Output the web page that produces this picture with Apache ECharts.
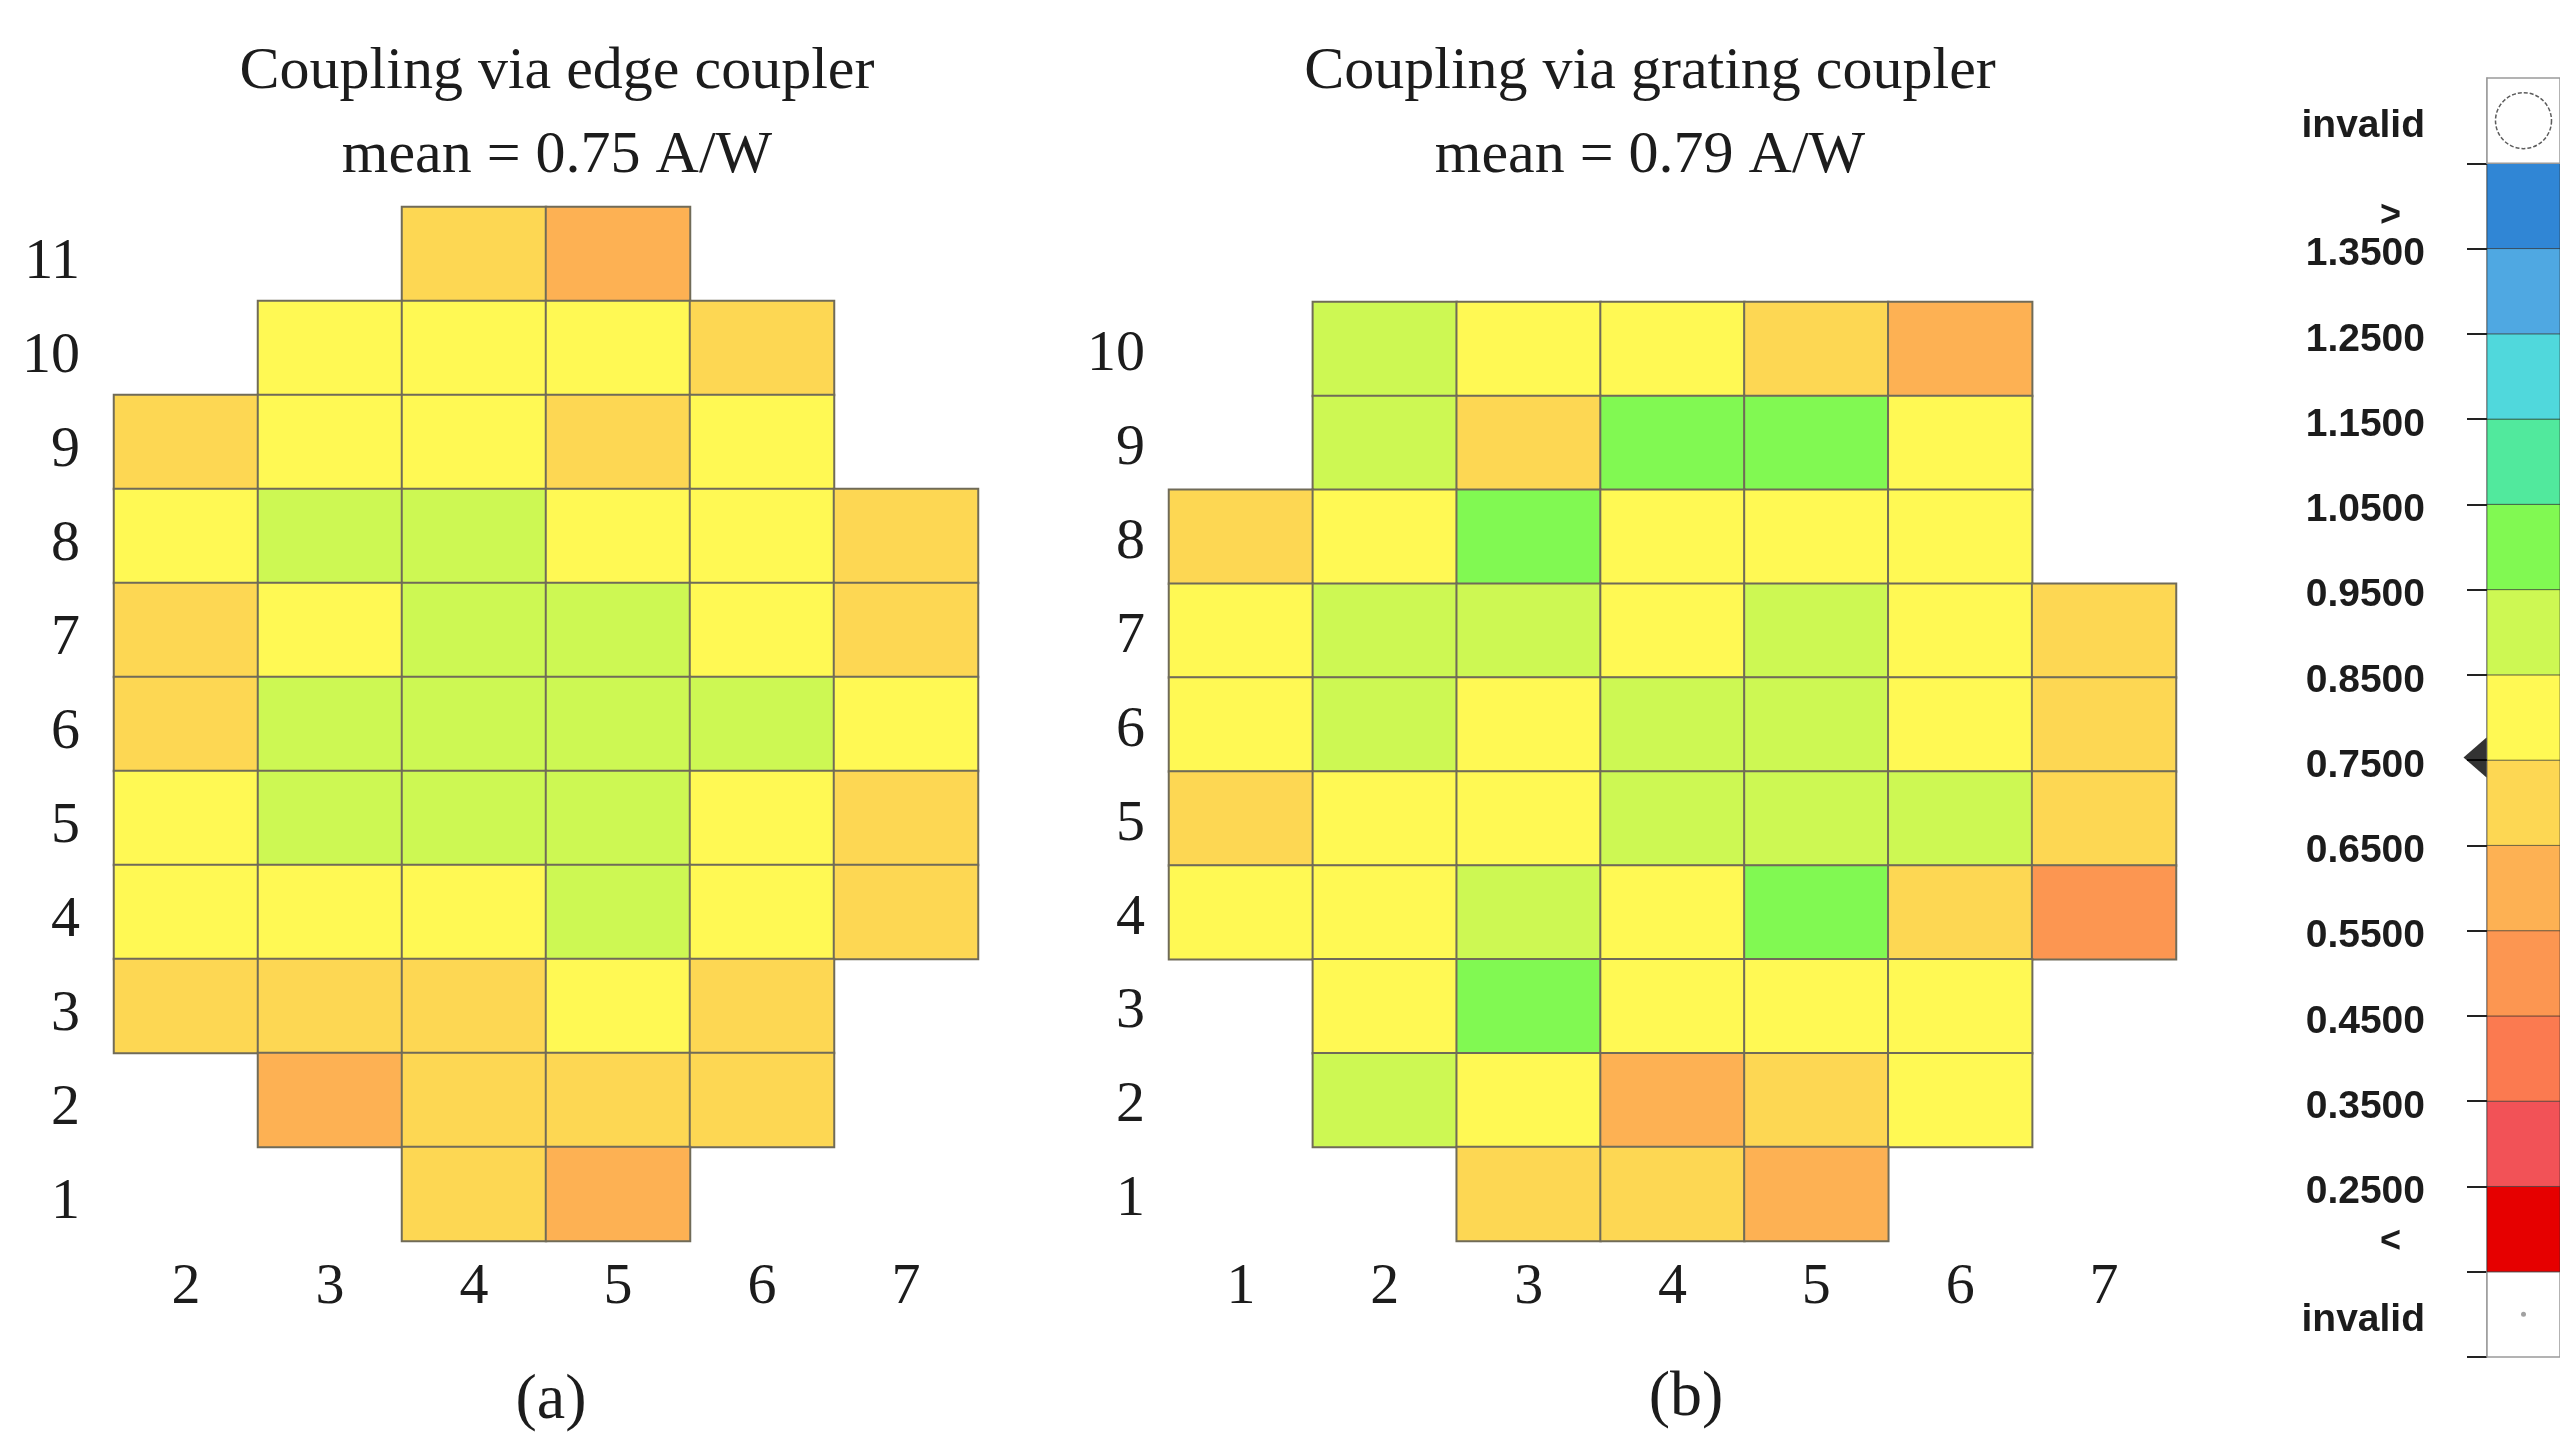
<!DOCTYPE html>
<html>
<head>
<meta charset="utf-8">
<title>Responsivity wafer maps</title>
<script src="https://cdn.jsdelivr.net/npm/echarts@6/dist/echarts.min.js"></script>
<style>
  html, body { margin: 0; padding: 0; background: #ffffff; }
  #chart { width: 2560px; height: 1432px; }
</style>
</head>
<body>
<div id="chart"></div>
<script>
// Die column / row numbers of the two wafer maps
const edgeCols = ['2', '3', '4', '5', '6', '7'];
const edgeRows = ['1', '2', '3', '4', '5', '6', '7', '8', '9', '10', '11'];
const gratingCols = ['1', '2', '3', '4', '5', '6', '7'];
const gratingRows = ['1', '2', '3', '4', '5', '6', '7', '8', '9', '10'];

// Responsivity per die in A/W, top row first; null = no die at that site
const edgeResp = [
  [null, null, 0.68, 0.61, null, null],
  [null, 0.78, 0.79, 0.80, 0.69, null],
  [0.67, 0.77, 0.78, 0.68, 0.77, null],
  [0.78, 0.87, 0.88, 0.79, 0.77, 0.67],
  [0.68, 0.79, 0.87, 0.88, 0.78, 0.67],
  [0.68, 0.86, 0.88, 0.87, 0.86, 0.77],
  [0.77, 0.87, 0.86, 0.88, 0.78, 0.68],
  [0.76, 0.77, 0.78, 0.86, 0.77, 0.67],
  [0.67, 0.66, 0.67, 0.78, 0.67, null],
  [null, 0.60, 0.67, 0.68, 0.67, null],
  [null, null, 0.68, 0.59, null, null]
];
const gratingResp = [
  [null, 0.88, 0.77, 0.78, 0.71, 0.61, null],
  [null, 0.89, 0.70, 0.99, 0.98, 0.77, null],
  [0.70, 0.77, 0.99, 0.78, 0.77, 0.78, null],
  [0.77, 0.88, 0.89, 0.78, 0.89, 0.77, 0.70],
  [0.78, 0.88, 0.77, 0.89, 0.88, 0.78, 0.70],
  [0.70, 0.77, 0.78, 0.89, 0.88, 0.87, 0.71],
  [0.77, 0.77, 0.88, 0.78, 0.98, 0.71, 0.52],
  [null, 0.77, 0.99, 0.78, 0.77, 0.78, null],
  [null, 0.88, 0.77, 0.61, 0.70, 0.78, null],
  [null, null, 0.70, 0.71, 0.61, null, null]
];

// Colour classes of the responsivity scale (A/W), low to high
const scaleEdges = [0.25, 0.35, 0.45, 0.55, 0.65, 0.75, 0.85, 0.95, 1.05, 1.15, 1.25, 1.35];
const scaleColors = ['#e60000', '#f25257', '#fb7a50', '#fc9651', '#fdb153', '#fdd753',
                     '#fff954', '#cdf853', '#81f952', '#51e99d', '#50d8dc', '#4fa8e2', '#3086d5'];
const scaleStep = 0.1;

const r2 = v => Math.round(v * 1000) / 1000;

function toCells(rows) {
  const out = [];
  const n = rows.length;
  rows.forEach((row, r) => {
    row.forEach((v, c) => {
      if (v !== null) out.push([c, n - 1 - r, v]);
    });
  });
  return out;
}
function meanOf(rows) {
  const vals = rows.flat().filter(v => v !== null);
  return vals.reduce((a, b) => a + b, 0) / vals.length;
}

const edgeMean = meanOf(edgeResp);
const gratingMean = meanOf(gratingResp);

// visualMap classes
const pieces = scaleColors.map((color, i) => {
  if (i === 0) return { lt: scaleEdges[0], color };
  if (i === scaleColors.length - 1) return { gte: scaleEdges[i - 1], color };
  return { gte: scaleEdges[i - 1], lt: scaleEdges[i], color };
});

// colour bar: one invalid box at each end, then the classes
const barLow = r2(scaleEdges[0] - 2 * scaleStep);
const barHigh = r2(scaleEdges[scaleEdges.length - 1] + 2 * scaleStep);
const invalidLow = r2(barLow + scaleStep / 2);
const invalidHigh = r2(barHigh - scaleStep / 2);
const belowMark = 0.192;
const aboveMark = 1.395;

const bandAreas = [];
bandAreas.push([{ yAxis: barLow, itemStyle: { color: '#ffffff', borderColor: '#9a9a9a', borderWidth: 1.5 } },
                { yAxis: r2(barLow + scaleStep) }]);
scaleColors.forEach((color, i) => {
  const lo = i === 0 ? r2(scaleEdges[0] - scaleStep) : scaleEdges[i - 1];
  const hi = i === scaleColors.length - 1 ? r2(scaleEdges[i - 1] + scaleStep) : scaleEdges[i];
  bandAreas.push([{ yAxis: lo, itemStyle: { color, borderColor: 'rgba(40,40,40,0.55)', borderWidth: 1 } },
                  { yAxis: hi }]);
});
bandAreas.push([{ yAxis: r2(barHigh - scaleStep), itemStyle: { color: '#ffffff', borderColor: '#9a9a9a', borderWidth: 1.5 } },
                { yAxis: barHigh }]);

const tickValues = [barLow, r2(barLow + scaleStep)].concat(scaleEdges, [r2(barHigh - scaleStep)]);
const labelValues = [invalidLow, belowMark].concat(scaleEdges, [aboveMark, invalidHigh]);

const serif = 'Liberation Serif';
const sans = 'Liberation Sans';
const ink = '#1c1c1c';

function mapAxes(cols, rows, gi, yMargin, yShift) {
  return {
    x: {
      type: 'category', data: cols, gridIndex: gi,
      axisLine: { show: false }, axisTick: { show: false }, splitLine: { show: false },
      axisLabel: { fontFamily: serif, fontSize: 58, color: ink, margin: 18 }
    },
    y: {
      type: 'category', data: rows, gridIndex: gi,
      axisLine: { show: false }, axisTick: { show: false }, splitLine: { show: false },
      axisLabel: {
        margin: yMargin,
        formatter: v => '{n|' + v + '}',
        rich: { n: { fontFamily: serif, fontSize: 58, color: ink, padding: [yShift, 0, 0, 0] } }
      }
    }
  };
}
const axA = mapAxes(edgeCols, edgeRows, 0, 34, 18);
const axB = mapAxes(gratingCols, gratingRows, 1, 24, 12);

const cellStyle = { borderColor: '#706b58', borderWidth: 2 };

const option = {
  backgroundColor: '#ffffff',
  animation: false,
  title: [
    {
      text: 'Coupling via edge coupler\nmean = ' + edgeMean.toFixed(2) + ' A/W',
      left: 557, top: 30, textAlign: 'center', padding: 0,
      textStyle: { fontFamily: serif, fontSize: 60, fontWeight: 'normal', color: ink, lineHeight: 84 }
    },
    {
      text: 'Coupling via grating coupler\nmean = ' + gratingMean.toFixed(2) + ' A/W',
      left: 1650, top: 30, textAlign: 'center', padding: 0,
      textStyle: { fontFamily: serif, fontSize: 60, fontWeight: 'normal', color: ink, lineHeight: 84 }
    },
    {
      text: '(a)', left: 551, top: 1366, textAlign: 'center', padding: 0,
      textStyle: { fontFamily: serif, fontSize: 64, fontWeight: 'normal', color: ink, lineHeight: 70 }
    },
    {
      text: '(b)', left: 1686, top: 1363, textAlign: 'center', padding: 0,
      textStyle: { fontFamily: serif, fontSize: 64, fontWeight: 'normal', color: ink, lineHeight: 70 }
    }
  ],
  grid: [
    { left: 114, top: 207, width: 864, height: 1034 },
    { left: 1169, top: 302, width: 1007, height: 939 },
    { left: 2487, top: 78, width: 78, height: 1279 }
  ],
  xAxis: [
    axA.x, axB.x,
    { type: 'value', gridIndex: 2, min: 0, max: 1, show: false }
  ],
  yAxis: [
    axA.y, axB.y,
    {
      type: 'value', gridIndex: 2, min: barLow, max: barHigh,
      axisLine: { show: true, lineStyle: { color: '#9a9a9a', width: 1.5 } },
      splitLine: { show: false },
      axisTick: { show: true, length: 20, customValues: tickValues, lineStyle: { color: '#222', width: 2 } },
      axisLabel: {
        customValues: labelValues,
        margin: 62,
        padding: [12, 0, 0, 0],
        fontFamily: sans, fontWeight: 'bold', fontSize: 39, color: ink,
        formatter: function (v) {
          const k = Math.round(v * 1000);
          if (k === Math.round(invalidLow * 1000) || k === Math.round(invalidHigh * 1000)) return 'invalid';
          if (k === Math.round(aboveMark * 1000)) return '{sym|>}';
          if (k === Math.round(belowMark * 1000)) return '{sym|<}';
          return v.toFixed(4);
        },
        rich: {
          sym: { fontFamily: sans, fontWeight: 'bold', fontSize: 36, color: ink, padding: [0, 24, 0, 0] }
        }
      }
    }
  ],
  visualMap: {
    type: 'piecewise', show: false, seriesIndex: [0, 1], dimension: 2,
    pieces: pieces
  },
  series: [
    {
      name: 'edge coupler', type: 'heatmap', xAxisIndex: 0, yAxisIndex: 0,
      data: toCells(edgeResp), itemStyle: cellStyle, emphasis: { disabled: true }
    },
    {
      name: 'grating coupler', type: 'heatmap', xAxisIndex: 1, yAxisIndex: 1,
      data: toCells(gratingResp), itemStyle: cellStyle, emphasis: { disabled: true }
    },
    {
      // colour bar: bands, invalid symbols and mean marker
      name: 'scale', type: 'scatter', xAxisIndex: 2, yAxisIndex: 2, clip: false, silent: true,
      markArea: { silent: true, data: bandAreas },
      data: [
        { value: [0.5, invalidHigh], symbol: 'circle', symbolSize: 56,
          itemStyle: { color: '#ffffff', borderColor: '#333', borderWidth: 1.5, borderType: [4, 2] } },
        { value: [0.5, invalidLow], symbol: 'circle', symbolSize: 5, itemStyle: { color: '#8a8a8a' } },
        { value: [0, edgeMean], symbol: 'triangle', symbolSize: [40, 23], symbolRotate: 90,
          symbolOffset: [-12, 0], itemStyle: { color: '#000000' } }
      ]
    }
  ]
};

const chart = echarts.init(document.getElementById('chart'), null, { renderer: 'canvas' });
chart.setOption(option);
</script>
</body>
</html>
